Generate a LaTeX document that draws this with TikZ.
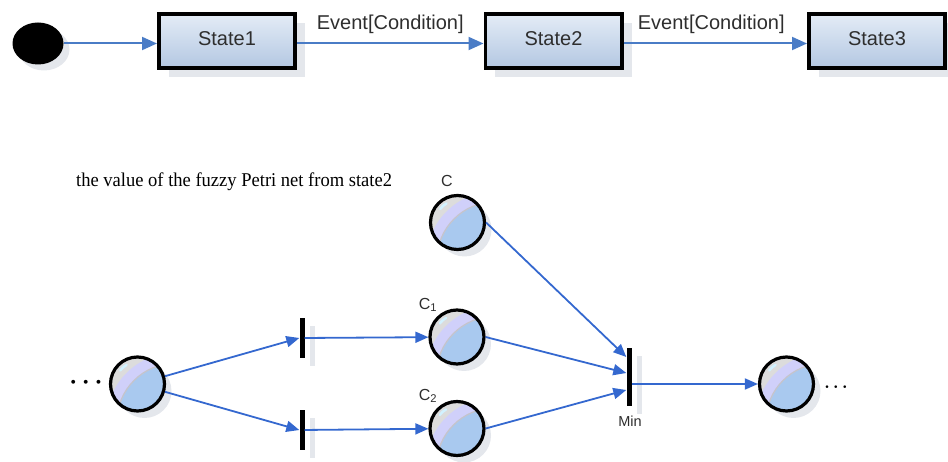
\documentclass[tikz,border=0pt]{standalone}
\usepackage{fontspec}
\usepackage{graphicx}
\setmainfont{Liberation Serif}
\setsansfont{Liberation Sans}
\usetikzlibrary{arrows.meta,shapes.geometric,shadows,calc}

\definecolor{boxtop}{HTML}{E4ECF6}
\definecolor{boxbot}{HTML}{B3C7E2}
\definecolor{shadowgray}{HTML}{E4E7EC}
\definecolor{placeblue}{HTML}{A9C9EF}
\definecolor{placelav}{HTML}{D0D0FA}
\definecolor{placegray}{HTML}{DCDCDC}
\definecolor{placehl}{HTML}{D2F2FF}
\definecolor{arcline}{HTML}{C4C4CC}
\definecolor{flowblue}{HTML}{3468CF}
\definecolor{topblue}{HTML}{4A7CC6}
\definecolor{labelgray}{HTML}{2E2E2E}

\begin{document}
\begin{tikzpicture}[x=1pt,y=-1pt,
  statebox/.style={rectangle, draw=black, line width=3.6pt,
    top color=boxtop, bottom color=boxbot,
    minimum width=136.4pt, minimum height=54.4pt, inner sep=0pt, text depth=5pt,
    font=\sffamily\fontsize{20}{22}\selectfont, text=labelgray,
    drop shadow={shadow xshift=10pt, shadow yshift=-9pt, fill=shadowgray, opacity=1}},
  % glossy place: grey cap, lavender band, blue body
  place/.style={circle, draw=black, line width=3.2pt, fill=placegray,
    minimum size=54pt, inner sep=0pt,
    drop shadow={shadow xshift=7pt, shadow yshift=-7pt, fill=shadowgray, opacity=1},
    path picture={
      \fill[placelav] ([shift={(37.8pt,-37.8pt)}]path picture bounding box.center) circle (69pt);
      \fill[placeblue] ([shift={(37.8pt,-37.8pt)}]path picture bounding box.center) circle (57.9pt);
      \draw[arcline, line width=1.3pt] ([shift={(37.8pt,-37.8pt)}]path picture bounding box.center) circle (58.4pt);
      \draw[placehl, line width=2.5pt, line cap=round] (path picture bounding box.center) ++(120:22pt) arc (120:142:22pt);
    }},
  tbar/.style={rectangle, fill=black, minimum width=5pt, minimum height=40pt, inner sep=0pt,
    drop shadow={shadow xshift=10pt, shadow yshift=-8pt, fill=shadowgray, opacity=1}},
  flow/.style={draw=flowblue, line width=1.8pt, -{Triangle[length=13pt,width=11pt]}},
  topflow/.style={draw=topblue, line width=2pt, -{Triangle[length=15pt,width=13pt]}},
  toplabel/.style={font=\sffamily\fontsize{20}{22}\selectfont, text=labelgray, inner sep=0pt},
  plabel/.style={font=\sffamily\fontsize{16}{18}\selectfont, text=labelgray, inner sep=0pt},
  dots/.style={text=black, inner sep=0pt}
]
\useasboundingbox (0,0) rectangle (948,462);

% state machine
\node[ellipse, fill=black, minimum width=51pt, minimum height=42pt, inner sep=0pt,
  drop shadow={shadow xshift=6pt, shadow yshift=-6pt, fill=shadowgray, opacity=1}] (init) at (38,43.5) {};
\node[statebox] (s1) at (227,41) {State1};
\node[statebox] (s2) at (553.5,41) {State2};
\node[statebox] (s3) at (877,41) {State3};

\draw[topflow] (init) -- (s1.west |- init);
\draw[topflow] (s1.east |- init) -- node[toplabel, anchor=base, yshift=13.5pt] {Event[Condition]} (s2.west |- init);
\draw[topflow] (s2.east |- init) -- node[toplabel, anchor=base, yshift=13.5pt, xshift=-4pt] {Event[Condition]} (s3.west |- init);

% fuzzy Petri net
\node[anchor=base west, inner sep=0pt, font=\fontsize{19.5}{22}\selectfont] (caption) at (76,187)
  {\scalebox{0.95}[1]{the value of the fuzzy Petri net from state2}};

\node[place] (L) at (137.5,384) {};
\node[tbar] (t1) at (302,338) {};
\node[tbar] (t2) at (302,430) {};
\node[place] (C) at (457.5,222.5) {};
\node[place] (C1) at (457,337) {};
\node[place] (C2) at (457,428.5) {};
\node[tbar, minimum height=57pt] (m) at (629,377) {};
\node[place] (R) at (786.5,384) {};

\node[plabel] (lC) at (447,181) {C};
\node[plabel] (lC1) at (428,305) {C\textsubscript{1}};
\node[plabel] (lC2) at (428,396) {C\textsubscript{2}};
\node[plabel, font=\sffamily\fontsize{14.5}{16}\selectfont] (lmin) at (630,421) {Min};

\node[dots, font=\fontsize{23}{25}\selectfont\boldmath] (dl) at (86,383) {$\cdots$};
\node[dots, font=\fontsize{19}{21}\selectfont\boldmath] (dr) at (836,387) {$\cdots$};

\coordinate (mC)  at ($(m.west)+(0,-20)$);
\coordinate (mC1) at ($(m.west)+(0,-4)$);
\coordinate (mC2) at ($(m.west)+(0,13)$);

\draw[flow] (L) -- (t1.west);
\draw[flow] (L) -- (t2.west);
\draw[flow] (t1) -- (C1);
\draw[flow] (t2) -- (C2);
\draw[flow] (C.east) -- (mC);
\draw[flow] (C1.east) -- (mC1);
\draw[flow] (C2.east) -- (mC2);
\draw[flow] (m.east |- R) -- (R);
\end{tikzpicture}
\end{document}
